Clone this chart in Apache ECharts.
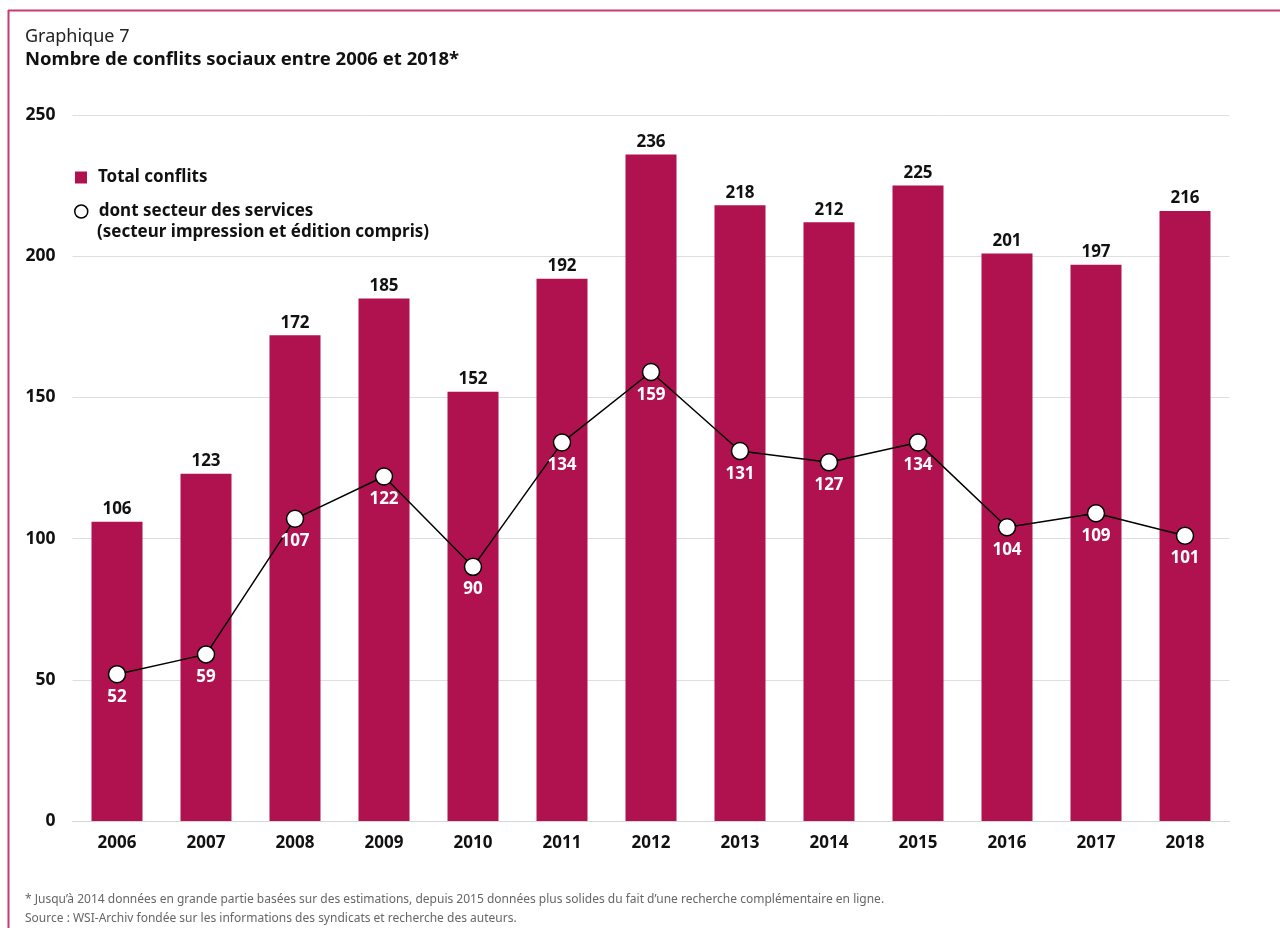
<!DOCTYPE html>
<html>
<head>
<meta charset="utf-8">
<script src="https://cdn.jsdelivr.net/npm/echarts@6/dist/echarts.min.js"></script>
<style>
  html, body { margin: 0; padding: 0; background: #fff; }
  #chart { width: 1280px; height: 928px; }
</style>
</head>
<body>
<div id="chart"></div>
<script>
// Années et nombre de conflits sociaux
const years = ['2006','2007','2008','2009','2010','2011','2012','2013','2014','2015','2016','2017','2018'];
const totalConflits = [106, 123, 172, 185, 152, 192, 236, 218, 212, 225, 201, 197, 216];
const secteurServices = [52, 59, 107, 122, 90, 134, 159, 131, 127, 134, 104, 109, 101];
const yTicks = [0, 50, 100, 150, 200, 250];

const nameTotal = 'Total conflits';
const nameServices = 'dont secteur des services';

const FONT = '"Noto Sans", "Open Sans", sans-serif';
const BAR = '#b0124f';
const FRAME = '#c83b72';

const chart = echarts.init(document.getElementById('chart'), null, { renderer: 'canvas' });

const legendText = { fontFamily: FONT, fontSize: 17, fontWeight: 'bold', color: '#111', padding: [0, 0, 0, 6] };

chart.setOption({
  animation: false,
  backgroundColor: '#fff',
  textStyle: { fontFamily: FONT },
  grid: { left: 72.5, right: 50.5, top: 115, bottom: 107, containLabel: false },
  legend: [
    {
      left: 70, top: 164, orient: 'vertical', padding: 5,
      itemWidth: 12, itemHeight: 12,
      selectedMode: false,
      data: [{ name: nameTotal, icon: 'rect' }],
      textStyle: legendText
    },
    {
      left: 69, top: 198, orient: 'vertical', padding: 5,
      itemWidth: 13, itemHeight: 13,
      selectedMode: false,
      data: [{ name: nameServices, icon: 'circle', itemStyle: { color: '#fff', borderColor: '#000', borderWidth: 1.5 } }],
      textStyle: legendText
    }
  ],
  graphic: [
    { type: 'line', shape: { x1: 8, y1: 10.5, x2: 1280, y2: 10.5 }, style: { stroke: FRAME, lineWidth: 2 } },
    { type: 'line', shape: { x1: 8.5, y1: 10, x2: 8.5, y2: 928 }, style: { stroke: FRAME, lineWidth: 2 } },
    { type: 'text', left: 25, top: 28, style: { text: 'Graphique 7', font: '18px ' + FONT, fill: '#222' } },
    { type: 'text', left: 25, top: 50, style: { text: 'Nombre de conflits sociaux entre 2006 et 2018*', font: 'bold 18.5px ' + FONT, fill: '#111' } },
    { type: 'text', left: 97, top: 224, style: { text: '(secteur impression et édition compris)', font: 'bold 17px ' + FONT, fill: '#111' } },
    { type: 'text', left: 25, top: 894, style: { text: '* Jusqu\u2019à 2014 données en grande partie basées sur des estimations, depuis 2015 données plus solides du fait d\u2019une recherche complémentaire en ligne.', font: '12px ' + FONT, fill: '#666' } },
    { type: 'text', left: 25, top: 913, style: { text: 'Source : WSI-Archiv fondée sur les informations des syndicats et recherche des auteurs.', font: '12px ' + FONT, fill: '#666' } }
  ],
  xAxis: {
    type: 'category',
    data: years,
    axisLine: { show: true, lineStyle: { color: '#d5d5d5', width: 1 } },
    axisTick: { show: false },
    axisLabel: { fontFamily: FONT, fontSize: 17, fontWeight: 'bold', color: '#111', margin: 14 }
  },
  yAxis: {
    type: 'value',
    min: 0, max: 250, interval: 50,
    axisLine: { show: false },
    axisTick: { show: false },
    axisLabel: {
      fontFamily: FONT, fontSize: 17.5, fontWeight: 'bold', color: '#111', margin: 17,
      customValues: yTicks
    },
    splitLine: { lineStyle: { color: '#dedede', width: 1 } }
  },
  series: [
    {
      name: nameTotal,
      type: 'bar',
      data: totalConflits,
      barWidth: 51,
      itemStyle: { color: BAR },
      label: { show: true, position: 'top', distance: 4, fontFamily: FONT, fontSize: 17, fontWeight: 'bold', color: '#111' }
    },
    {
      name: nameServices,
      type: 'line',
      data: secteurServices,
      symbol: 'circle',
      symbolSize: 17,
      lineStyle: { color: '#000', width: 1.5 },
      itemStyle: { color: '#fff', borderColor: '#000', borderWidth: 1.5 },
      label: { show: true, position: 'bottom', distance: 5, fontFamily: FONT, fontSize: 17, fontWeight: 'bold', color: '#fff' },
      z: 3
    }
  ]
});
</script>
</body>
</html>
